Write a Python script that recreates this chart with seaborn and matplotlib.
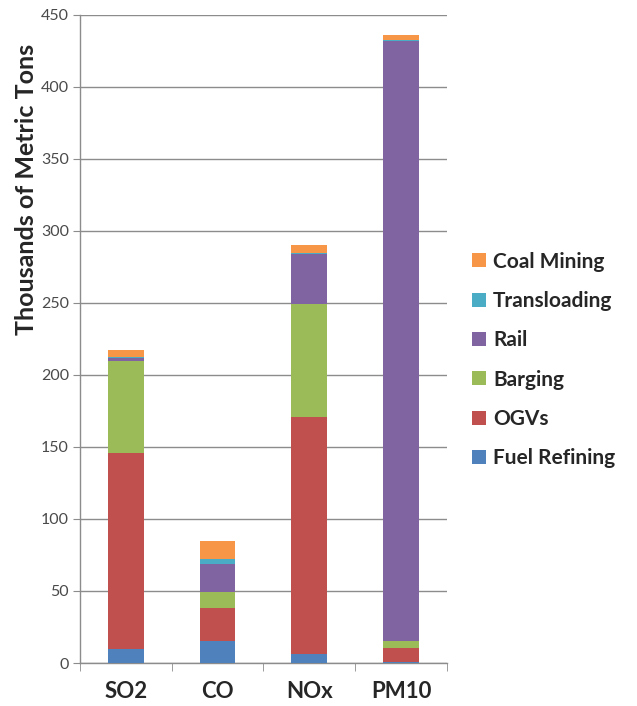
import numpy as np
import pandas as pd
import matplotlib
matplotlib.use("Agg")
import matplotlib.pyplot as plt
import seaborn as sns
from matplotlib.patches import Patch

# data (thousands of metric tons)
pollutants = ["SO2", "CO", "NOx", "PM10"]
sources = ["Fuel Refining", "OGVs", "Barging", "Rail", "Transloading", "Coal Mining"]
fuel_refining = [10, 15, 6.5, 1]
ogvs = [136, 23, 164.5, 9.5]
barging = [64, 11, 78, 4.5]
rail = [1.5, 20, 35, 417]
transloading = [1, 3, 1, 0.5]
coal_mining = [4.5, 12.5, 5, 3.5]

colors = ["#4F81BD", "#C0504D", "#9BBB59", "#8064A2", "#4BACC6", "#F79646"]

df = pd.DataFrame({
    "Pollutant": pollutants,
    "Fuel Refining": fuel_refining,
    "OGVs": ogvs,
    "Barging": barging,
    "Rail": rail,
    "Transloading": transloading,
    "Coal Mining": coal_mining,
})
cum = df[sources].cumsum(axis=1)

sns.set_style("white")
plt.rcParams["font.family"] = ["Lato", "DejaVu Sans"]

fig = plt.figure(figsize=(6.37, 7.06), dpi=100)
ax = fig.add_axes([0.1256, 0.0609, 0.576, 0.918])

# stacked bars: draw the cumulative totals from the top layer down
for src, col in reversed(list(zip(sources, colors))):
    sns.barplot(x=df["Pollutant"], y=cum[src], color=col, width=0.39,
                saturation=1, ax=ax, edgecolor="none", linewidth=0, zorder=3)

ax.set_ylim(0, 450)
ax.set_xlim(-0.5, 3.5)
ax.set_yticks(np.arange(0, 451, 50))
ax.yaxis.grid(True, color="#8c8c8c", linewidth=1, zorder=0)
ax.set_axisbelow(True)

for s in ["top", "right"]:
    ax.spines[s].set_visible(False)
for s in ["left", "bottom"]:
    ax.spines[s].set_color("#8c8c8c")
    ax.spines[s].set_linewidth(1)

ax.tick_params(axis="y", length=5, color="#8c8c8c", labelsize=11.5,
               labelcolor="#4a4a4a", left=True, pad=3)
ax.set_xticks(range(len(pollutants)))
ax.set_xticklabels(pollutants, fontsize=16, fontweight="bold")
ax.set_xticks(np.arange(-0.5, 4, 1), minor=True)
ax.tick_params(axis="x", which="major", length=0, pad=13)
ax.tick_params(axis="x", which="minor", length=6, color="#8c8c8c", bottom=True)

ax.set_xlabel("")
ax.set_ylabel("Thousands of Metric Tons", fontsize=18, fontweight="bold")
ax.yaxis.set_label_coords(-0.115, 0.73)

handles = [Patch(facecolor=c, edgecolor="none") for c in colors]
leg = fig.legend(handles[::-1], sources[::-1], loc="center left",
                 bbox_to_anchor=(0.725, 0.49), frameon=False,
                 prop={"size": 15, "weight": "bold"}, borderpad=0,
                 handlelength=0.65, handleheight=0.65, handletextpad=0.35,
                 labelspacing=0.93)

fig.savefig("out.png", dpi=100)
